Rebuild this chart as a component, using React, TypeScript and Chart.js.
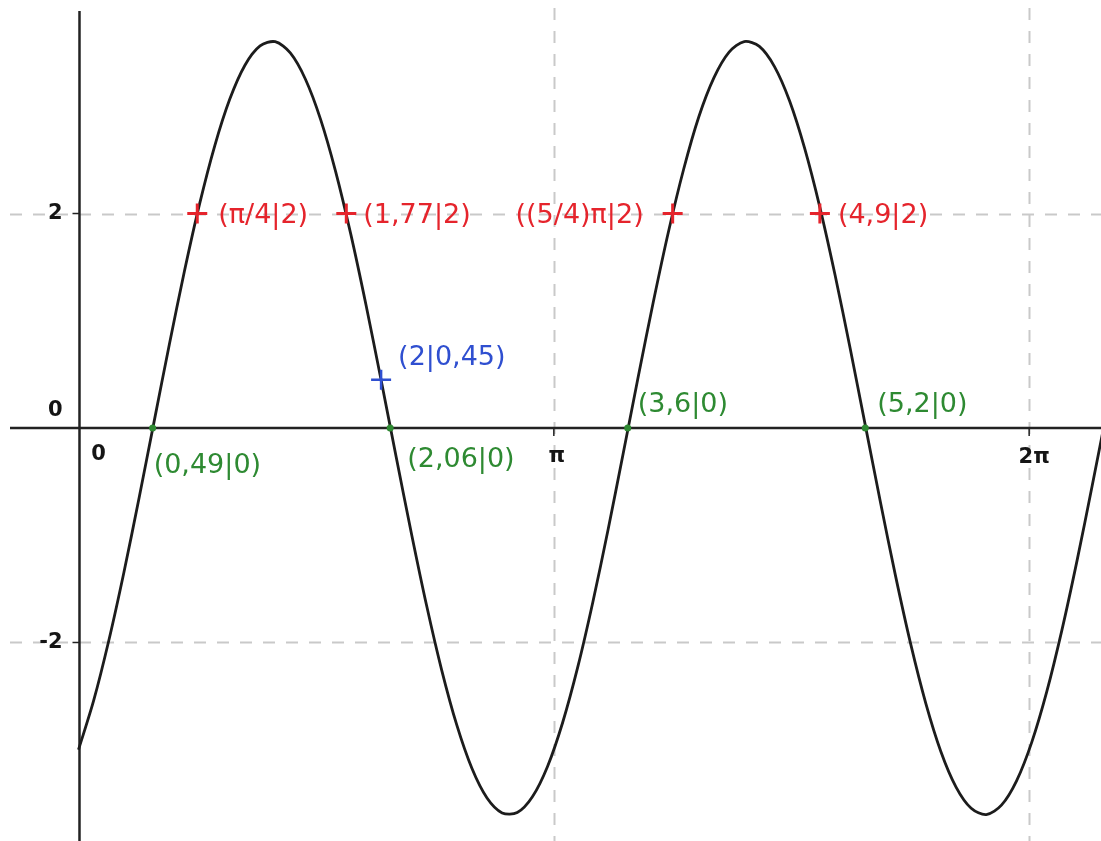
import React, { useEffect, useRef } from "react";
import { Chart, registerables } from "chart.js";

Chart.register(...registerables);

// ---------- data ----------
const curveX = [
  0, 0.1, 0.2, 0.3, 0.4, 0.5, 0.6, 0.7, 0.8, 0.9,
  1.0, 1.1, 1.2, 1.3, 1.4, 1.5, 1.6, 1.7, 1.8, 1.9,
  2.0, 2.1, 2.2, 2.3, 2.4, 2.5, 2.6, 2.7, 2.8, 2.9,
  3.0, 3.1, 3.2, 3.3, 3.4, 3.5, 3.6, 3.7, 3.8, 3.9,
  4.0, 4.1, 4.2, 4.3, 4.4, 4.5, 4.6, 4.7, 4.8, 4.9,
  5.0, 5.1, 5.2, 5.3, 5.4, 5.5, 5.6, 5.7, 5.8, 5.9,
  6.0, 6.1, 6.2, 6.3, 6.4, 6.5, 6.6, 6.7, 6.8,
];
const curveY = [
  -3.0, -2.543, -1.984, -1.347, -0.655, 0.062, 0.777, 1.461, 2.087, 2.629,
  3.067, 3.383, 3.563, 3.602, 3.497, 3.252, 2.878, 2.389, 1.805, 1.149,
  0.447, -0.272, -0.981, -1.651, -2.255, -2.769, -3.173, -3.45, -3.589, -3.586,
  -3.439, -3.156, -2.746, -2.228, -1.62, -0.948, -0.238, 0.482, 1.182, 1.835,
  2.415, 2.902, 3.267, 3.505, 3.603, 3.558, 3.37, 3.049, 2.605, 2.058,
  1.429, 0.743, 0.027, -0.689, -1.379, -2.013, -2.567, -3.018, -3.348, -3.546,
  -3.605, -3.517, -3.29, -2.931, -2.456, -1.882, -1.234, -0.536, 0.182,
];

const redX = [0.785, 1.77, 3.927, 4.9];
const redY = [2, 2, 2, 2];
const redLabels = ["(π/4|2)", "(1,77|2)", "((5/4)π|2)", "(4,9|2)"];

const blueX = [2];
const blueY = [0.45];
const blueLabels = ["(2|0,45)"];

const greenX = [0.49, 2.06, 3.63, 5.2];
const greenY = [0, 0, 0, 0];
const greenLabels = ["(0,49|0)", "(2,06|0)", "(3,6|0)", "(5,2|0)"];

const xTickValues = [0, Math.PI, 2 * Math.PI];
const xTickLabels = ["0", "π", "2π"];
const yTickValues = [2, 0, -2];
const yTickLabels = ["2", "0", "-2"];
const xGridValues = [Math.PI, 2 * Math.PI];
const yGridValues = [2, -2];

// ---------- view / style ----------
const W = 1101;
const H = 841;
const X_MIN = -0.5188;
const X_MAX = 6.758;
const Y_MIN = -3.851;
const Y_MAX = 3.991;

const RED = "#e5242c";
const BLUE = "#2f4fd0";
const GREEN = "#2e8a32";
const LABEL_FONT = '27px "DejaVu Sans"';
const TICK_FONT = 'bold 21px "DejaVu Sans"';

// label placement: [dx, dy, align] relative to the point pixel
const redOffsets: [number, number, CanvasTextAlign][] = [
  [21, 2, "left"],
  [17, 2, "left"],
  [-29, 2, "right"],
  [18, 2, "left"],
];
const blueOffsets: [number, number, CanvasTextAlign][] = [[17, -22, "left"]];
const greenOffsets: [number, number, CanvasTextAlign][] = [
  [1, 38, "left"],
  [17, 32, "left"],
  [10, -23, "left"],
  [12, -23, "left"],
];
// tick label placement relative to the tick position on the axis
const xTickOffsets: [number, number][] = [
  [20, 27],
  [3, 29],
  [5, 30],
];
const yTickOffsets: [number, number][] = [
  [-16, 0],
  [-16, -17],
  [-16, 0],
];

const toPts = (xs: number[], ys: number[]) => xs.map((x, i) => ({ x, y: ys[i] }));

const geoPlugin = {
  id: "geoPlugin",
  beforeDraw(chart: any) {
    const { ctx } = chart;
    ctx.save();
    ctx.fillStyle = "#ffffff";
    ctx.fillRect(0, 0, chart.width, chart.height);
    ctx.restore();
  },
  beforeDatasetsDraw(chart: any) {
    const { ctx } = chart;
    const xs = chart.scales.x;
    const ys = chart.scales.y;
    const x0 = xs.getPixelForValue(0);
    const y0 = ys.getPixelForValue(0);
    ctx.save();
    // dashed grid
    ctx.strokeStyle = "#c9c9c9";
    ctx.lineWidth = 2;
    ctx.setLineDash([12, 11]);
    xGridValues.forEach((v) => {
      const px = Math.round(xs.getPixelForValue(v)) + 0.5;
      ctx.beginPath();
      ctx.moveTo(px, 8);
      ctx.lineTo(px, H);
      ctx.stroke();
    });
    yGridValues.forEach((v) => {
      const py = Math.round(ys.getPixelForValue(v)) + 0.5;
      ctx.beginPath();
      ctx.moveTo(10, py);
      ctx.lineTo(W, py);
      ctx.stroke();
    });
    ctx.setLineDash([]);
    // axes
    ctx.strokeStyle = "#222222";
    ctx.lineWidth = 2.5;
    ctx.beginPath();
    ctx.moveTo(x0 + 1, 11);
    ctx.lineTo(x0 + 1, H);
    ctx.stroke();
    ctx.beginPath();
    ctx.moveTo(10, y0);
    ctx.lineTo(W, y0);
    ctx.stroke();
    // tick marks
    ctx.lineWidth = 1.5;
    xTickValues.forEach((v, i) => {
      if (i === 0) return;
      const px = xs.getPixelForValue(v);
      ctx.beginPath();
      ctx.moveTo(px, y0);
      ctx.lineTo(px, y0 + 8);
      ctx.stroke();
    });
    yTickValues.forEach((v) => {
      if (v === 0) return;
      const py = ys.getPixelForValue(v);
      ctx.beginPath();
      ctx.moveTo(x0 - 6, py);
      ctx.lineTo(x0 + 1, py);
      ctx.stroke();
    });
    // tick labels
    ctx.fillStyle = "#151515";
    ctx.font = TICK_FONT;
    ctx.textBaseline = "middle";
    ctx.textAlign = "center";
    xTickValues.forEach((v, i) => {
      const px = xs.getPixelForValue(v);
      ctx.fillText(xTickLabels[i], px + xTickOffsets[i][0], y0 + xTickOffsets[i][1]);
    });
    ctx.textAlign = "right";
    yTickValues.forEach((v, i) => {
      const py = ys.getPixelForValue(v);
      ctx.fillText(yTickLabels[i], x0 + yTickOffsets[i][0], py + yTickOffsets[i][1]);
    });
    ctx.restore();
  },
  afterDatasetsDraw(chart: any) {
    const { ctx } = chart;
    const xs = chart.scales.x;
    const ys = chart.scales.y;
    ctx.save();
    ctx.font = LABEL_FONT;
    ctx.textBaseline = "middle";
    const drawSet = (
      px: number[],
      py: number[],
      labels: string[],
      offs: [number, number, CanvasTextAlign][],
      color: string
    ) => {
      ctx.fillStyle = color;
      labels.forEach((t, i) => {
        const x = xs.getPixelForValue(px[i]);
        const y = ys.getPixelForValue(py[i]);
        ctx.textAlign = offs[i][2];
        ctx.fillText(t, x + offs[i][0], y + offs[i][1]);
      });
    };
    drawSet(redX, redY, redLabels, redOffsets, RED);
    drawSet(blueX, blueY, blueLabels, blueOffsets, BLUE);
    drawSet(greenX, greenY, greenLabels, greenOffsets, GREEN);
    ctx.restore();
  },
};

export default function App() {
  const ref = useRef<HTMLCanvasElement | null>(null);

  useEffect(() => {
    document.body.style.margin = "0";
    const canvas = ref.current;
    if (!canvas) return;
    const chart = new Chart(canvas, {
      type: "scatter",
      data: {
        datasets: [
          {
            label: "red",
            data: toPts(redX, redY),
            pointStyle: "cross",
            pointRadius: 10,
            pointBorderWidth: 3,
            pointBorderColor: RED,
            pointBackgroundColor: RED,
            showLine: false,
            order: 1,
          },
          {
            label: "blue",
            data: toPts(blueX, blueY),
            pointStyle: "cross",
            pointRadius: 10,
            pointBorderWidth: 2.5,
            pointBorderColor: BLUE,
            pointBackgroundColor: BLUE,
            showLine: false,
            order: 1,
          },
          {
            label: "green",
            data: toPts(greenX, greenY),
            pointStyle: "circle",
            pointRadius: 3.5,
            pointBorderWidth: 0,
            pointBackgroundColor: GREEN,
            pointBorderColor: GREEN,
            showLine: false,
            order: 2,
          },
          {
            label: "f",
            data: toPts(curveX, curveY),
            showLine: true,
            borderColor: "#1c1c1c",
            borderWidth: 2.8,
            pointRadius: 0,
            tension: 0.3,
            fill: false,
            order: 10,
          },
        ],
      },
      options: {
        animation: false,
        responsive: false,
        maintainAspectRatio: false,
        events: [],
        layout: { padding: 0, autoPadding: false },
        plugins: {
          legend: { display: false },
          tooltip: { enabled: false },
        },
        scales: {
          x: { type: "linear", min: X_MIN, max: X_MAX, display: false },
          y: { type: "linear", min: Y_MIN, max: Y_MAX, display: false },
        },
      },
      plugins: [geoPlugin],
    });
    return () => chart.destroy();
  }, []);

  return (
    <div style={{ width: W, height: H }}>
      <canvas ref={ref} width={W} height={H} style={{ display: "block", width: W, height: H }} />
    </div>
  );
}
